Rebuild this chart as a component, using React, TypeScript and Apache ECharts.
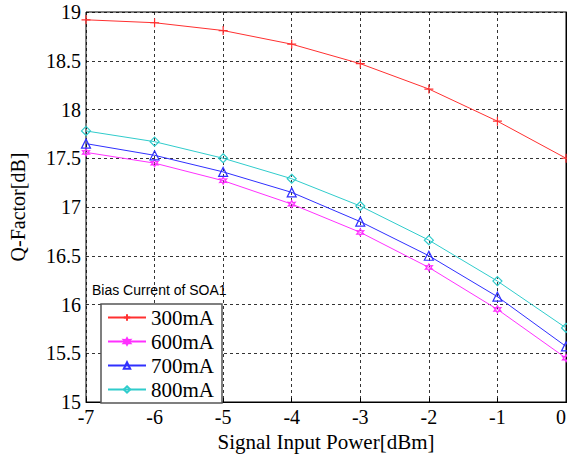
import React, { useEffect, useRef } from "react";
import * as echarts from "echarts";

const xValues = [-7, -6, -5, -4, -3, -2, -1, 0];
const seriesNames = ["300mA", "600mA", "700mA", "800mA"];
const q300 = [18.92, 18.89, 18.81, 18.67, 18.47, 18.21, 17.88, 17.5];
const q600 = [17.56, 17.45, 17.27, 17.03, 16.74, 16.38, 15.95, 15.45];
const q700 = [17.65, 17.53, 17.36, 17.15, 16.85, 16.5, 16.08, 15.57];
const q800 = [17.78, 17.67, 17.5, 17.29, 17.01, 16.66, 16.24, 15.76];
const legendTitle = "Bias Current of SOA1";

const serif = "'Liberation Serif', 'Times New Roman', serif";

const plusPath = "path://M5,0L5,10M0,5L10,5";
const hexPath =
  "path://M5,0L6.3,2.8L9.3,2.5L7.6,5L9.3,7.5L6.3,7.2L5,10L3.7,7.2L0.7,7.5L2.4,5L0.7,2.5L3.7,2.8Z";

export default function App() {
  const ref = useRef<HTMLDivElement>(null);
  useEffect(() => {
    if (!ref.current) return;
    const chart = echarts.init(ref.current, undefined, { renderer: "svg" });
    const mk = (vals: number[]) => xValues.map((x, i) => [x, vals[i]]);
    const defs = [
      { name: seriesNames[0], data: q300, color: "#ff3030", symbol: plusPath, size: 9 },
      { name: seriesNames[1], data: q600, color: "#ff30ff", symbol: hexPath, size: 7 },
      { name: seriesNames[2], data: q700, color: "#3030ff", symbol: "triangle", size: 9 },
      { name: seriesNames[3], data: q800, color: "#30cccc", symbol: "diamond", size: 9 },
    ];
    chart.setOption({
      animation: false,
      backgroundColor: "#fff",
      grid: {
        left: 86,
        right: 1,
        top: 12,
        bottom: 55,
        outerBoundsMode: "none",
        containLabel: false,
        show: true,
        borderColor: "#000",
        borderWidth: 1,
      },
      xAxis: {
        type: "value",
        min: -7,
        max: 0,
        interval: 1,
        name: "Signal Input Power[dBm]",
        nameLocation: "middle",
        nameGap: 28,
        nameTextStyle: { fontFamily: serif, fontSize: 21, color: "#000" },
        axisLine: { show: true, lineStyle: { color: "#000" } },
        axisTick: { show: true, inside: true, length: 4, lineStyle: { color: "#000" } },
        axisLabel: {
          fontFamily: serif,
          fontSize: 20,
          color: "#000",
          margin: 5,
          alignMaxLabel: "right",
        },
        splitLine: { show: true, lineStyle: { color: "#000", type: [3, 3], width: 0.8 } },
      },
      yAxis: {
        type: "value",
        min: 15,
        max: 19,
        interval: 0.5,
        name: "Q-Factor[dB]",
        nameLocation: "middle",
        nameGap: 58,
        nameTextStyle: { fontFamily: serif, fontSize: 20, color: "#000" },
        axisLine: { show: true, lineStyle: { color: "#000" } },
        axisTick: { show: true, inside: true, length: 4, lineStyle: { color: "#000" } },
        axisLabel: { fontFamily: serif, fontSize: 20, color: "#000", margin: 5 },
        splitLine: { show: true, lineStyle: { color: "#000", type: [3, 3], width: 0.8 } },
      },
      legend: {
        orient: "vertical",
        left: 101,
        top: 304,
        itemWidth: 38,
        itemHeight: 8,
        itemGap: 3,
        padding: [3, 8, 3, 6],
        backgroundColor: "#fff",
        borderColor: "#555",
        borderWidth: 1.5,
        borderRadius: 0,
        textStyle: { fontFamily: serif, fontSize: 21, color: "#000" },
        data: seriesNames,
      },
      graphic: [
        {
          type: "text",
          left: 92,
          top: 283,
          style: {
            text: legendTitle,
            font: "14px 'Liberation Sans', Arial, sans-serif",
            fill: "#000",
          },
          z: 100,
        },
      ],
      series: defs.map((d) => ({
        name: d.name,
        type: "line",
        data: mk(d.data),
        symbol: d.symbol,
        symbolSize: d.size,
        showSymbol: true,
        color: d.color,
        lineStyle: { color: d.color, width: 1 },
        itemStyle: { color: "rgba(255,255,255,0)", borderColor: d.color, borderWidth: 1.2 },
        clip: false,
      })),
    });
    return () => chart.dispose();
  }, []);
  return (
    <div
      ref={ref}
      style={{ position: "fixed", left: 0, top: 0, width: 567, height: 457 }}
    />
  );
}
